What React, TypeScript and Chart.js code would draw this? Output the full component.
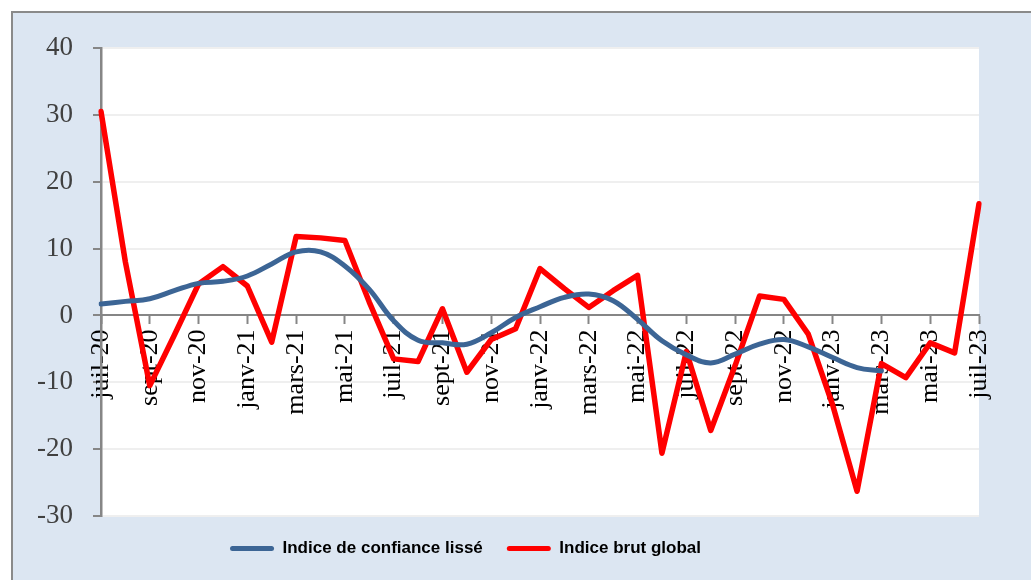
import React, { useEffect, useRef } from "react";
import { Chart, registerables } from "chart.js";

Chart.register(...registerables);

const months = [
  "juil-20", "août-20", "sept-20", "oct-20", "nov-20", "déc-20",
  "janv-21", "févr-21", "mars-21", "avr-21", "mai-21", "juin-21",
  "juil-21", "août-21", "sept-21", "oct-21", "nov-21", "déc-21",
  "janv-22", "févr-22", "mars-22", "avr-22", "mai-22", "juin-22",
  "juil-22", "août-22", "sept-22", "oct-22", "nov-22", "déc-22",
  "janv-23", "févr-23", "mars-23", "avr-23", "mai-23", "juin-23",
  "juil-23",
];

const smoothedIndex = [
  1.7, 2.1, 2.5, 3.7, 4.8, 5.1, 5.9, 7.7, 9.5, 9.5, 7.4, 3.9,
  -0.8, -3.7, -4.1, -4.3, -2.6, -0.3, 1.3, 2.7, 3.2, 2.2, -0.6, -3.8,
  -5.9, -7.1, -5.8, -4.3, -3.6, -4.7, -6.3, -7.8, -8.3, null, null, null,
  null,
];

const rawIndex = [
  30.5, 8, -10.5, -3, 4.7, 7.3, 4.4, -4, 11.8, 11.6, 11.2, 2,
  -6.5, -6.9, 1.0, -8.5, -3.6, -2.0, 7.0, 4.0, 1.2, 3.7, 6.0, -20.6,
  -5.4, -17.2, -7.5, 2.9, 2.4, -2.8, -13.4, -26.3, -7.2, -9.3, -4.1, -5.6,
  16.7,
];

const seriesNames = ["Indice de confiance lissé", "Indice brut global"];
const yMin = -30;
const yMax = 40;
const yStep = 10;

export default function App() {
  const ref = useRef<HTMLCanvasElement>(null);

  useEffect(() => {
    if (!ref.current) return;

    const framePlugin = {
      id: "frame",
      afterLayout(chart: any) {
        if (chart.legend) chart.legend.right -= 48;
      },
      beforeDraw(chart: any) {
        const { ctx, width, height, chartArea } = chart;
        ctx.save();
        ctx.fillStyle = "#ffffff";
        ctx.fillRect(0, 0, width, height);
        ctx.fillStyle = "#DCE6F2";
        ctx.fillRect(11, 12, width - 11, height - 12);
        ctx.fillStyle = "#8A8A8A";
        ctx.fillRect(11, 11, width - 11, 2);
        ctx.fillRect(11, 11, 2, height - 11);
        ctx.fillStyle = "#ffffff";
        ctx.fillRect(
          chartArea.left,
          chartArea.top - 1,
          chartArea.right - chartArea.left,
          chartArea.bottom - chartArea.top + 1
        );
        ctx.restore();
      },
    };

    const chart = new Chart(ref.current, {
      type: "line",
      data: {
        labels: months,
        datasets: [
          {
            label: seriesNames[0],
            data: smoothedIndex,
            borderColor: "#3C6595",
            backgroundColor: "#3C6595",
            borderWidth: 5,
            tension: 0.4,
            pointRadius: 0,
            borderCapStyle: "round",
            borderJoinStyle: "round",
            spanGaps: false,
          },
          {
            label: seriesNames[1],
            data: rawIndex,
            borderColor: "#FF0000",
            backgroundColor: "#FF0000",
            borderWidth: 5.5,
            tension: 0,
            pointRadius: 0,
            borderCapStyle: "round",
            borderJoinStyle: "round",
          },
        ],
      },
      options: {
        animation: false,
        responsive: false,
        layout: { padding: { top: 48, right: 52, bottom: 13, left: 0 } },
        plugins: {
          tooltip: { enabled: false },
          legend: {
            position: "bottom",
            labels: {
              boxWidth: 44,
              boxHeight: 5,
              padding: 24,
              color: "#000000",
              font: { family: "'Liberation Sans', Arial, sans-serif", size: 17, weight: "bold" },
              generateLabels(chart: any) {
                return chart.data.datasets.map((ds: any, i: number) => ({
                  text: ds.label,
                  fillStyle: ds.borderColor,
                  strokeStyle: ds.borderColor,
                  lineWidth: 0,
                  borderRadius: 2.5,
                  hidden: false,
                  datasetIndex: i,
                }));
              },
              useBorderRadius: true,
              borderRadius: 2.5,
            },
          },
        },
        scales: {
          x: {
            type: "category",
            position: { y: 0 },
            offset: false,
            afterBuildTicks(scale: any) {
              scale.ticks = scale.ticks.filter((t: any) => t.value % 2 === 0);
            },
            grid: {
              drawOnChartArea: false,
              drawTicks: true,
              tickLength: 8,
              tickColor: "#868686",
              tickWidth: 2,
            },
            border: { display: true, color: "#868686", width: 2 },
            ticks: {
              autoSkip: false,
              minRotation: 90,
              maxRotation: 90,
              padding: 6,
              color: "#000000",
              font: { family: "'Liberation Serif', 'Times New Roman', serif", size: 26 },
            },
          },
          y: {
            min: yMin,
            max: yMax,
            afterFit(scale: any) {
              scale.width = 101;
            },
            grid: {
              color: "#EFEFEF",
              lineWidth: 2,
              drawTicks: true,
              tickLength: 8,
              tickColor: "#868686",
              tickWidth: 2,
            },
            border: { display: true, color: "#868686", width: 2.5 },
            ticks: {
              stepSize: yStep,
              padding: 20,
              color: "#404040",
              font: { family: "'Liberation Serif', 'Times New Roman', serif", size: 27 },
            },
          },
        },
      },
      plugins: [framePlugin],
    } as any);

    return () => chart.destroy();
  }, []);

  return (
    <canvas
      ref={ref}
      width={1031}
      height={580}
      style={{ position: "absolute", left: 0, top: 0, width: 1031, height: 580 }}
    />
  );
}
